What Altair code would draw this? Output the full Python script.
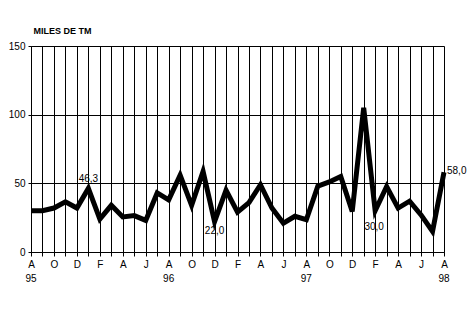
import altair as alt
import pandas as pd

months = ["A", "S", "O", "N", "D", "E", "F", "M", "A", "M", "J", "J",
          "A", "S", "O", "N", "D", "E", "F", "M", "A", "M", "J", "J",
          "A", "S", "O", "N", "D", "E", "F", "M", "A", "M", "J", "J",
          "A"]
values = [30, 30, 32, 36.5, 32, 46.3, 24, 34, 25.5, 26.5, 23, 43,
          38, 56, 34, 58.6, 22, 45, 29, 36, 49, 32, 21, 26,
          23.5, 48, 51, 55, 29.5, 105, 30, 47.7, 32, 37, 27, 15,
          58]
year_labels = ["95", "96", "97", "98"]
year_idx = [0, 12, 24, 36]
label_idx = [5, 16, 30, 36]
label_text = ["46,3", "22,0", "30,0", "58,0"]

W, H = 413, 206
FONT = "Liberation Sans"

df = pd.DataFrame({"i": list(range(len(values))), "v": values})
years = pd.DataFrame({"i": year_idx, "t": year_labels})
labels = pd.DataFrame({"i": label_idx, "t": label_text,
                       "v": [values[k] for k in label_idx]})

month_js = "[" + ",".join("'" + m + "'" for m in months) + "]"
label_expr = "(datum.value % 2 == 0) ? " + month_js + "[datum.value] : ''"

xscale = alt.Scale(domain=[0, len(values) - 1], nice=False, zero=False)
yscale = alt.Scale(domain=[0, 150], nice=False)

x_axis = alt.Axis(values=list(range(len(values))),
                  labelExpr=label_expr,
                  title=None, grid=True, gridColor="black", gridOpacity=1,
                  gridWidth=1, tickColor="black", tickSize=4, domainColor="black",
                  labelFont=FONT, labelFontSize=10, labelColor="black",
                  labelPadding=3, labelFlush=False, labelOverlap=False)
y_axis = alt.Axis(values=[0, 50, 100, 150], title="MILES DE TM",
                  titleAngle=0, titleX=2, titleY=-16, titleAlign="left",
                  titleBaseline="middle",
                  titleFont=FONT, titleFontSize=9, titleFontWeight="bold",
                  titleColor="black",
                  grid=True, gridColor="black", gridOpacity=1, gridWidth=1,
                  tickColor="black", tickSize=3, domainColor="black",
                  labelFont=FONT, labelFontSize=10, labelColor="black",
                  labelPadding=3)

def xe():
    return alt.X("i:Q", scale=xscale, axis=x_axis)

def ye():
    return alt.Y("v:Q", scale=yscale, axis=y_axis)

line = alt.Chart(df).mark_line(color="black", strokeWidth=5, strokeJoin="miter").encode(
    x=xe(), y=ye())

yr = alt.Chart(years).mark_text(font=FONT, fontSize=10, color="black", baseline="middle").encode(
    x=xe(), y=alt.value(H + 27), text="t:N")

offsets = [(0, -9, "center"), (0, 9, "center"), (-1, 16, "center"), (3, -1, "left")]
lab_layers = []
for k, (dx, dy, al) in enumerate(offsets):
    lab_layers.append(
        alt.Chart(labels.iloc[[k]]).mark_text(font=FONT, fontSize=10, color="black",
                                             dx=dx, dy=dy, align=al, baseline="middle").encode(
            x=xe(), y=ye(), text="t:N"))

chart = alt.layer(line, yr, *lab_layers).properties(
    width=W, height=H,
    padding={"left": 31, "top": 46, "right": 26, "bottom": 76},
    autosize=alt.AutoSizeParams(type="none"),
).configure_view(stroke=None).configure(background="white")

chart.save("out.html", embed_options={"renderer": "svg", "actions": False})
